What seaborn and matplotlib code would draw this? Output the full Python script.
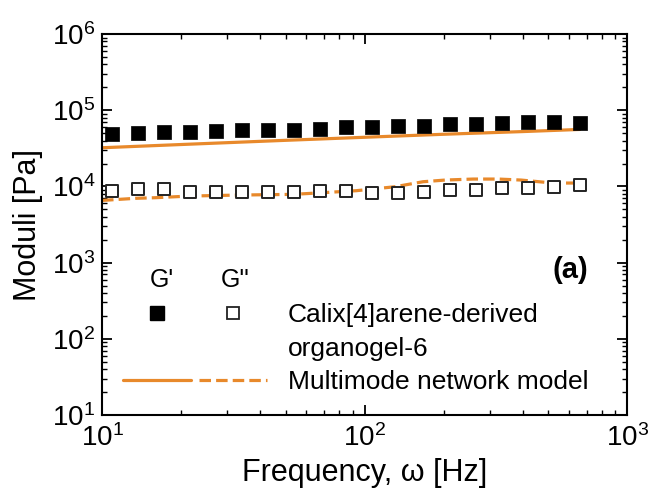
import numpy as np
import pandas as pd
import matplotlib
matplotlib.use("Agg")
import matplotlib.pyplot as plt
import seaborn as sns
from matplotlib.lines import Line2D
from matplotlib.legend_handler import HandlerTuple

# ---- data ----
freq = [10.9, 13.7, 17.2, 21.6, 27.1, 34.1, 42.8, 53.8, 67.5, 84.8,
        106.5, 133.8, 168, 211, 265, 333, 418, 525, 660]
g_storage = [48300, 50700, 51300, 51300, 52900, 55000, 55000, 55000, 56700, 59700,
             59700, 62600, 62000, 65900, 65900, 67300, 69400, 69400, 68800]
g_loss = [8790, 9160, 9160, 8520, 8520, 8370, 8370, 8370, 8790, 8790,
          8270, 8270, 8520, 8970, 8970, 9440, 9440, 9910, 10430]

model_freq_storage = [10, 20, 50, 100, 200, 400, 660]
model_storage = [32200, 35500, 40300, 44200, 48400, 52500, 56000]
model_freq_loss = [10, 13.4, 15.9, 21.6, 33.6, 53.5, 68.9, 92.9, 130.6, 167,
                   203, 259, 323, 394, 522, 662]
model_loss = [6550, 6980, 7110, 7480, 7710, 7870, 8270, 8790, 9910, 11530,
              12130, 12500, 12500, 12130, 11080, 11080]

xticks = [10, 100, 1000]
yticks = [10, 100, 1000, 1e4, 1e5, 1e6]

ORANGE = "#E8892B"

sns.set_theme(style="ticks")
plt.rcParams["font.family"] = ["Liberation Sans", "DejaVu Sans"]
plt.rcParams["mathtext.default"] = "regular"
for k in ["text.color", "axes.labelcolor", "xtick.color", "ytick.color", "axes.edgecolor"]:
    plt.rcParams[k] = "black"

fig = plt.figure(figsize=(6.54, 4.94), dpi=100)
ax = fig.add_axes([0.156, 0.160, 0.803, 0.771])

exp_df = pd.DataFrame({"freq": freq, "gp": g_storage, "gpp": g_loss})

sns.lineplot(x=model_freq_storage, y=model_storage, ax=ax, color=ORANGE,
             linewidth=2.3, linestyle="-")
sns.lineplot(x=model_freq_loss, y=model_loss, ax=ax, color=ORANGE,
             linewidth=2.3, linestyle=(0, (3.6, 1.6)))
sns.scatterplot(data=exp_df, x="freq", y="gp", ax=ax, marker="s", s=100,
                color="black", edgecolor="black", linewidth=0.5, zorder=3)
sns.scatterplot(data=exp_df, x="freq", y="gpp", ax=ax, marker="s", s=72,
                facecolor="white", edgecolor="#222222", linewidth=1.4, zorder=3)

ax.set_xscale("log")
ax.set_yscale("log")
ax.set_xlim(10, 1000)
ax.set_ylim(10, 1e6)
ax.set_xticks(xticks)
ax.set_yticks(yticks)

ax.set_xlabel("Frequency, \u03c9 [Hz]", fontsize=22, labelpad=4)
ax.set_ylabel("Moduli [Pa]", fontsize=22, labelpad=6)

for s in ax.spines.values():
    s.set_visible(True)
    s.set_linewidth(1.5)
    s.set_color("black")
ax.tick_params(which="both", direction="in", top=True, right=True)
ax.tick_params(axis="x", which="major", pad=7)
ax.tick_params(which="major", length=7, width=1.3, labelsize=20)
ax.tick_params(axis="y", which="major", pad=5)
ax.tick_params(which="minor", length=3.5, width=1.0)

# legend
h_sq = Line2D([], [], marker="s", color="black", linestyle="none", markersize=9.5)
h_osq = Line2D([], [], marker="s", markerfacecolor="white", markeredgecolor="#222222",
               markeredgewidth=1.3, linestyle="none", markersize=8)
h_empty = Line2D([], [], linestyle="none")
h_solid = Line2D([], [], color=ORANGE, linewidth=2.3)
h_dash = Line2D([], [], color=ORANGE, linewidth=2.3, linestyle=(0, (3.6, 1.6)))

leg = ax.legend([(h_sq, h_osq), h_empty, (h_solid, h_dash)],
                ["Calix[4]arene-derived", "organogel-6", "Multimode network model"],
                handler_map={tuple: HandlerTuple(ndivide=2, pad=0.3)},
                loc="upper left", bbox_to_anchor=(0.04, 0.293), frameon=False,
                fontsize=19, handlelength=5.45, handletextpad=0.8,
                labelspacing=0.35, borderpad=0, borderaxespad=0)

ax.text(0.114, 0.354, "G'", transform=ax.transAxes, fontsize=18, ha="center", va="center")
ax.text(0.253, 0.354, "G''", transform=ax.transAxes, fontsize=18, ha="center", va="center")
ax.text(0.926, 0.381, "(a)", transform=ax.transAxes, fontsize=21, fontweight="bold",
        ha="right", va="center")

fig.savefig("out.png", dpi=100)
